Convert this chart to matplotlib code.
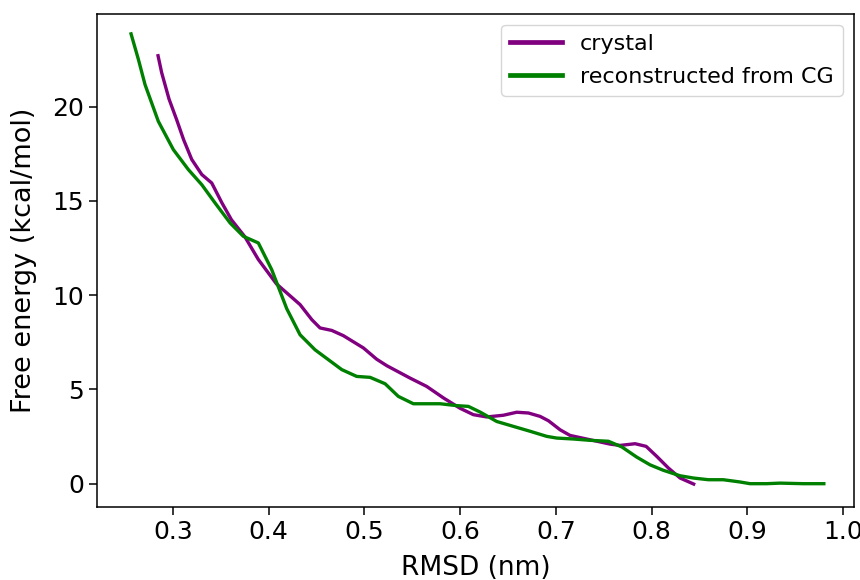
"""Free energy profile along RMSD: crystal vs. reconstructed from CG."""

import matplotlib
matplotlib.use("Agg")
import matplotlib.pyplot as plt

# crystal structure profile
rmsd_crystal = [0.2843, 0.2881, 0.2958, 0.3038, 0.311, 0.3195, 0.330, 0.3404,
                0.351, 0.361, 0.375, 0.389, 0.408, 0.4327, 0.445, 0.4536,
                0.4658, 0.478, 0.4989, 0.5128, 0.5233, 0.5477, 0.565, 0.5825,
                0.5999, 0.6138, 0.6278, 0.6451, 0.6591, 0.6713, 0.6835, 0.6922,
                0.7044, 0.7148, 0.7357, 0.7566, 0.767, 0.7828, 0.7943, 0.8054,
                0.8176, 0.8298, 0.8440]
fe_crystal = [22.7, 21.8, 20.4, 19.3, 18.25, 17.2, 16.4, 15.95,
              14.9, 14.0, 13.1, 11.9, 10.6, 9.5, 8.7, 8.26,
              8.13, 7.85, 7.2, 6.6, 6.26, 5.6, 5.16, 4.55,
              4.0, 3.66, 3.54, 3.63, 3.79, 3.75, 3.57, 3.34,
              2.86, 2.56, 2.33, 2.1, 2.03, 2.12, 1.98, 1.45,
              0.83, 0.30, -0.02]

# structures reconstructed from coarse-grained model
rmsd_cg = [0.2561, 0.2638, 0.2707, 0.2846, 0.3003, 0.316, 0.330, 0.3439,
           0.3596, 0.3735, 0.3891, 0.4031, 0.4188, 0.4327, 0.4484, 0.4763,
           0.4919, 0.5059, 0.5216, 0.5354, 0.5511, 0.579, 0.5964, 0.6086,
           0.6208, 0.6382, 0.6556, 0.6731, 0.6905, 0.7009, 0.7183, 0.7357,
           0.7549, 0.7689, 0.7845, 0.7984, 0.8123, 0.8298, 0.8437, 0.8594,
           0.875, 0.8925, 0.9029, 0.9203, 0.9343, 0.9586, 0.9800]
fe_cg = [23.86, 22.5, 21.17, 19.22, 17.72, 16.66, 15.86, 14.89,
         13.83, 13.12, 12.77, 11.35, 9.28, 7.9, 7.1, 6.05,
         5.69, 5.64, 5.3, 4.63, 4.24, 4.24, 4.14, 4.1,
         3.8, 3.3, 3.04, 2.78, 2.51, 2.42, 2.37, 2.3,
         2.25, 1.95, 1.41, 1.0, 0.71, 0.42, 0.30, 0.21,
         0.21, 0.09, 0.0, 0.0, 0.03, 0.0, 0.0]

fig = plt.figure(figsize=(8.6, 5.8), dpi=100)
ax = fig.add_axes([0.1131, 0.1264, 0.8799, 0.8500])

ax.plot(rmsd_crystal, fe_crystal, color="purple", lw=2.4, label="crystal")
ax.plot(rmsd_cg, fe_cg, color="green", lw=2.4, label="reconstructed from CG")

ax.set_xlim(0.2208, 1.0115)
ax.set_ylim(-1.22, 24.93)
ax.set_xticks([0.3, 0.4, 0.5, 0.6, 0.7, 0.8, 0.9, 1.0])
ax.set_yticks([0, 5, 10, 15, 20])
ax.tick_params(labelsize=18, length=6, width=1.1)
for sp in ax.spines.values():
    sp.set_linewidth(1.1)

ax.set_xlabel("RMSD (nm)", fontsize=19, labelpad=8)
ax.set_ylabel("Free energy (kcal/mol)", fontsize=19.5, labelpad=11)

leg = ax.legend(loc="upper right", fontsize=16, handlelength=2.35,
                labelspacing=0.6)
for line in leg.get_lines():
    line.set_linewidth(3.4)

fig.savefig("out.png", dpi=100)
